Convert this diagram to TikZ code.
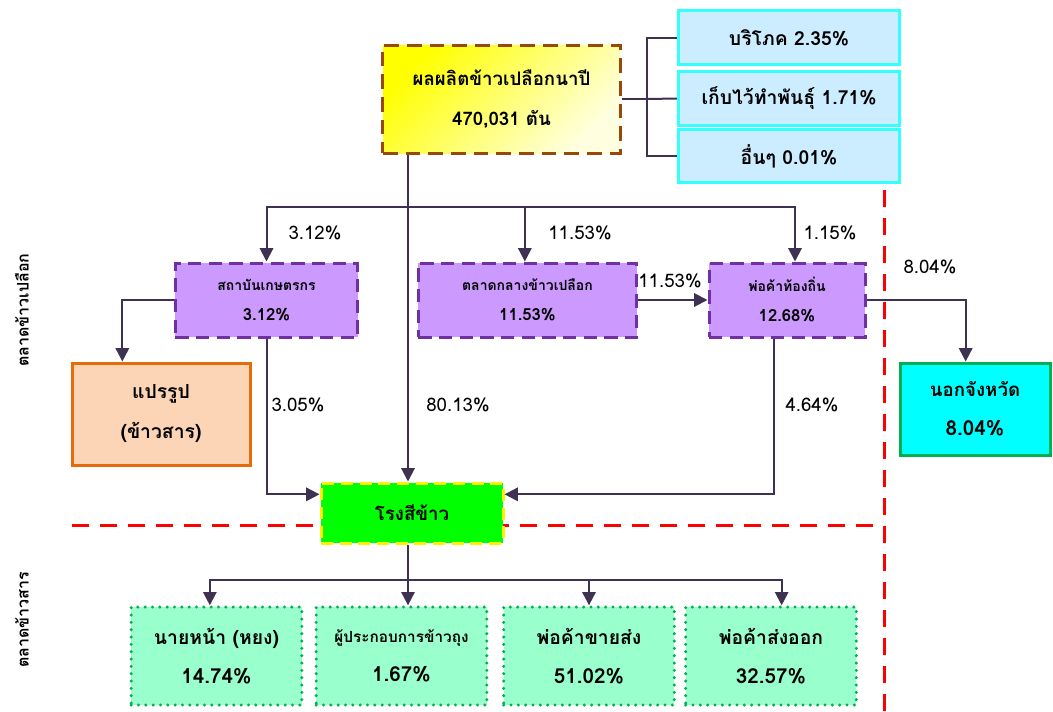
\documentclass[tikz,border=0pt]{standalone}
\usepackage{fontspec}
\setmainfont[Script=Thai]{Loma}
\usetikzlibrary{arrows.meta}
\definecolor{flowline}{HTML}{3F3151}
\definecolor{brownline}{HTML}{984807}
\definecolor{paleblue}{HTML}{CCECFF}
\definecolor{cyanline}{HTML}{33FFFF}
\definecolor{lilac}{HTML}{CC99FF}
\definecolor{purpleline}{HTML}{7030A0}
\definecolor{peach}{HTML}{FBD5B5}
\definecolor{orangeline}{HTML}{E46C0A}
\definecolor{greenline}{HTML}{00B050}
\definecolor{mint}{HTML}{99FFCC}
\definecolor{aqua}{HTML}{00FFFF}
\definecolor{lime}{HTML}{00FF00}
\newcommand{\pcnt}[1]{{\fontsize{15.5}{16}\selectfont #1}}
\newcommand{\tradepcnt}[1]{{\fontsize{12.5}{14}\selectfont #1}}
\begin{document}
\begin{tikzpicture}[x=0.75pt,y=-0.75pt,
	box/.style={line width=2.25pt,align=center,inner sep=0pt,font=\bfseries\fontsize{14}{30}\selectfont},
	usebox/.style={box,draw=cyanline,fill=paleblue,minimum width=166pt,minimum height=40pt,font=\bfseries\fontsize{14.5}{16}\selectfont},
	tradebox/.style={box,draw=purpleline,fill=lilac,dash pattern=on 10pt off 5.5pt,minimum height=55.5pt,font=\bfseries\fontsize{10.5}{22.5}\selectfont},
	buyerbox/.style={box,draw=greenline,fill=mint,line width=2.5pt,dash pattern=on 0pt off 5.5pt,line cap=round,minimum width=128pt,minimum height=73.5pt,font=\bfseries\fontsize{14.5}{29}\selectfont},
	flow/.style={draw=flowline,line width=1.5pt,-{Triangle[width=10pt,length=10pt]}},
	link/.style={draw=flowline,line width=1.5pt},
	pct/.style={font=\fontsize{14}{16}\selectfont,inner sep=1pt},
	divider/.style={draw=red,line width=2.25pt,dash pattern=on 13pt off 8pt},
	side/.style={rotate=90,font=\bfseries\fontsize{12}{14}\selectfont}
	]
	\useasboundingbox (0,0) rectangle (1053,711);
	\coordinate (hl) at (72,525);
	\coordinate (hr) at (878,525);
	\coordinate (vt) at (884,190);
	\coordinate (vb) at (884,711);
	\draw[divider] (hl) -- (hr);
	\draw[divider] (vt) -- (vb);
	\node[box,draw=brownline,dash pattern=on 11pt off 6pt,top color=yellow,bottom color=yellow!12,shading angle=45,minimum width=178pt,minimum height=81pt] (paddy) at (501.5,99) {ผลผลิตข้าวเปลือกนาปี\\470,031 ตัน};
	\node[usebox] (consume) at (789,37.5) {บริโภค 2.35\%};
	\node[usebox] (seed) at (789,98.5) {เก็บไว้ทำพันธุ์ 1.71\%};
	\node[usebox] (other) at (789,156) {อื่นๆ 0.01\%};
	\node[tradebox,minimum width=137pt] (coop) at (266.5,300) {สถาบันเกษตรกร\\\tradepcnt{3.12\%}};
	\node[tradebox,minimum width=164pt] (central) at (527.5,300) {ตลาดกลางข้าวเปลือก\\\tradepcnt{11.53\%}};
	\node[tradebox,minimum width=117pt] (local) at (787,300) {พ่อค้าท้องถิ่น\\\tradepcnt{12.68\%}};
	\node[box,draw=orangeline,fill=peach,minimum width=133.5pt,minimum height=76.5pt,font=\bfseries\fontsize{14.5}{30}\selectfont] (process) at (161,414) {แปรรูป\\(ข้าวสาร)};
	\node[box,draw=greenline,fill=aqua,minimum width=112.5pt,minimum height=69pt,font=\bfseries\fontsize{14}{29}\selectfont] (outside) at (975,409) {นอกจังหวัด\\\pcnt{8.04\%}};
	\node[box,draw=yellow,fill=lime,dash pattern=on 9pt off 5pt,minimum width=136.5pt,minimum height=45pt] (mill) at (412,513) {โรงสีข้าว};
	\node[buyerbox] (broker) at (216.5,656) {นายหน้า (หยง)\\\pcnt{14.74\%}};
	\node[buyerbox,font=\bfseries\fontsize{11.5}{29}\selectfont] (bagged) at (401.5,656) {ผู้ประกอบการข้าวถุง\\\pcnt{1.67\%}};
	\node[buyerbox] (wholesale) at (589,656) {พ่อค้าขายส่ง\\\pcnt{51.02\%}};
	\node[buyerbox] (exporter) at (771,656) {พ่อค้าส่งออก\\\pcnt{32.57\%}};
	\node[side] (paddymkt) at (22,310) {ตลาดข้าวเปลือก};
	\node[side] (ricemkt) at (22,620) {ตลาดข้าวสาร};
	\coordinate (bracket) at (647,99);
	\coordinate (split) at (408,207);
	\coordinate (fork) at (408,580);
	\draw[link] (paddy.east) -- (bracket);
	\draw[link] (bracket) |- (consume.west);
	\draw[link] (bracket) -- (seed.west);
	\draw[link] (bracket) |- (other.west);
	\draw[flow] (paddy.south -| split) -- (mill.north -| split);
	\draw[flow] (split) -| (coop.north);
	\draw[flow] (split) -| ([xshift=-2pt]central.north);
	\draw[flow] (split) -| ([xshift=6pt]local.north);
	\draw[flow] (central.east) -- (local.west);
	\draw[flow] (coop.west) -| ([xshift=-29pt]process.north);
	\draw[flow] (coop.south) |- ([yshift=14pt]mill.west);
	\draw[flow] ([xshift=-10pt]local.south) |- ([yshift=14pt]mill.east);
	\draw[flow] (local.east) -| ([xshift=-7pt]outside.north);
	\draw[link] (mill.south -| fork) -- (fork);
	\draw[flow] (fork) -| ([xshift=-5pt]broker.north);
	\draw[flow] (fork) -| (bagged.north -| fork);
	\draw[flow] (fork) -| (wholesale.north);
	\draw[flow] (fork) -| ([xshift=8pt]exporter.north);
	\node[pct] (p1) at (315,233) {3.12\%};
	\node[pct] (p2) at (580,233) {11.53\%};
	\node[pct] (p3) at (830,233) {1.15\%};
	\node[pct] (p4) at (670,281) {11.53\%};
	\node[pct] (p5) at (930,267) {8.04\%};
	\node[pct] (p6) at (298,405) {3.05\%};
	\node[pct] (p7) at (458,405) {80.13\%};
	\node[pct] (p8) at (812,405) {4.64\%};
\end{tikzpicture}
\end{document}
